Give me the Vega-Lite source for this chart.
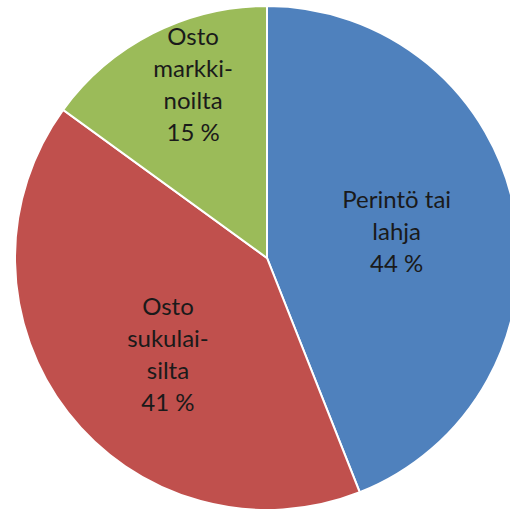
{
  "$schema": "https://vega.github.io/schema/vega-lite/v6.json",
  "width": 486,
  "height": 516,
  "padding": {"left": 24, "top": 0, "right": 0, "bottom": 0},
  "autosize": {"type": "none"},
  "background": "white",
  "view": {"stroke": null},
  "data": {
    "values": [
      {"name": "Perintö tai lahja", "value": 44, "label": "Perintö tai\nlahja\n44 %"},
      {"name": "Osto sukulaisilta", "value": 41, "label": "Osto\nsukulai-\nsilta\n41 %"},
      {"name": "Osto markkinoilta", "value": 15, "label": "Osto\nmarkki-\nnoilta\n15 %"}
    ]
  },
  "transform": [
    {"stack": "value", "groupby": [], "sort": [{"field": "value", "order": "descending"}], "as": ["v0", "v1"]},
    {"calculate": "(datum.v0 + datum.v1) / 2", "as": "vm"}
  ],
  "layer": [
    {
      "mark": {"type": "arc", "outerRadius": 252, "stroke": "white", "strokeWidth": 2},
      "encoding": {
        "theta": {"field": "v0", "type": "quantitative", "scale": {"domain": [0, 100], "range": [0, 6.283185307179586]}},
        "theta2": {"field": "v1"},
        "color": {
          "field": "name",
          "type": "nominal",
          "legend": null,
          "scale": {
            "domain": ["Perintö tai lahja", "Osto sukulaisilta", "Osto markkinoilta"],
            "range": ["#4F81BD", "#C0504D", "#9BBB59"]
          }
        }
      }
    },
    {
      "transform": [{"filter": "datum.name === 'Perintö tai lahja'"}],
      "mark": {"type": "text", "radius": 130, "dx": 2, "dy": -33, "font": "Lato", "fontSize": 24, "lineHeight": 32, "lineBreak": "\n", "color": "#1a1a1a", "align": "center", "baseline": "middle"},
      "encoding": {
        "theta": {"field": "vm", "type": "quantitative", "scale": {"domain": [0, 100], "range": [0, 6.283185307179586]}},
        "text": {"field": "label"}
      }
    },
    {
      "transform": [{"filter": "datum.name === 'Osto sukulaisilta'"}],
      "mark": {"type": "text", "radius": 138, "dx": 10, "dy": -35, "font": "Lato", "fontSize": 24, "lineHeight": 32, "lineBreak": "\n", "color": "#1a1a1a", "align": "center", "baseline": "middle"},
      "encoding": {
        "theta": {"field": "vm", "type": "quantitative", "scale": {"domain": [0, 100], "range": [0, 6.283185307179586]}},
        "text": {"field": "label"}
      }
    },
    {
      "transform": [{"filter": "datum.name === 'Osto markkinoilta'"}],
      "mark": {"type": "text", "radius": 187, "dx": 11, "dy": -53, "font": "Lato", "fontSize": 24, "lineHeight": 32, "lineBreak": "\n", "color": "#1a1a1a", "align": "center", "baseline": "middle"},
      "encoding": {
        "theta": {"field": "vm", "type": "quantitative", "scale": {"domain": [0, 100], "range": [0, 6.283185307179586]}},
        "text": {"field": "label"}
      }
    }
  ]
}
